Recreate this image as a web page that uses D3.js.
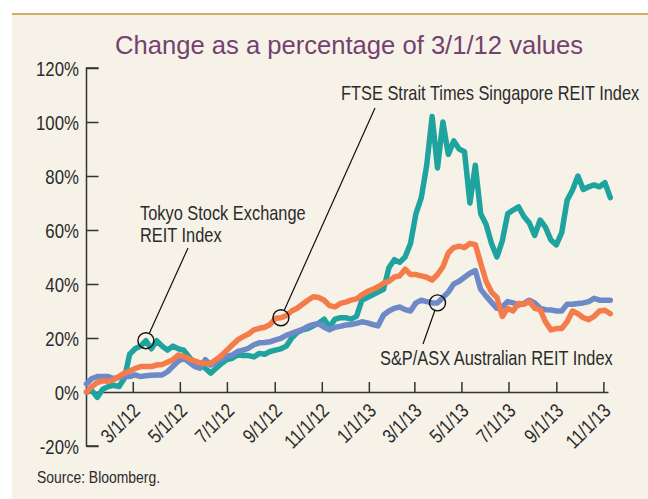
<!DOCTYPE html>
<html>
<head>
<meta charset="utf-8">
<script src="https://cdn.jsdelivr.net/npm/d3@7"></script>
<style>
  body { margin: 0; background: #fff; }
  svg { display: block; }
  .narrow { font-family: 'Liberation Sans', Arial, sans-serif; fill: #2b2b2b; }
</style>
</head>
<body>
<div id="chart"></div>
<script>
// Weekly readings (percent change), first week of Jan 2012 onwards
const tokyo = [0, 0.5, -2, 1, 2, 2.5, 2, 5, 14, 16, 17, 19, 16, 19, 17, 15.5, 17, 16, 15.5, 13,
  10.6, 10, 8.8, 7, 8.8, 10.6, 12, 12.5, 13.7, 13.5, 13.5, 13, 14.3, 14, 15, 15.5, 16, 17, 20, 22,
  23, 23.5, 24.5, 25.5, 27, 24, 27, 27.5, 27.5, 27, 28, 34, 35, 36, 37, 38, 46, 49, 48, 50,
  55, 66, 72, 84, 102, 83, 100, 88, 93, 90, 89, 70, 84, 66, 62, 55, 50, 56, 66, 67.4,
  68.6, 65, 62.6, 58, 63.7, 61, 56.3, 54.5, 59, 71, 74.8, 80, 75, 76, 76.7, 76, 77.5, 72];
const singapore = [0, 2, 3.5, 4.2, 4, 4.5, 5.7, 7, 7.8, 8.7, 9.4, 9.4, 9.4, 10, 10.2, 11, 12, 13.7, 13.2, 12.3,
  11.5, 10.8, 10.6, 10.6, 12, 13.5, 15.5, 17.4, 19.3, 20.5, 21.5, 23, 23.6, 24, 25, 27.3, 27.5, 28.3, 30, 31,
  32.5, 34, 35.3, 35, 34, 32, 31.5, 32.8, 33.3, 34, 34.5, 36, 37.2, 38, 39, 40.3, 41, 42.6, 43, 45.5,
  43.5, 43.5, 43, 42.5, 41.5, 43.5, 46.4, 51.5, 53.5, 54, 53.5, 55, 54.6, 47.7, 41, 37, 35, 28, 31, 30,
  32.8, 32.5, 33.5, 31, 30.5, 26, 23, 23.5, 23.5, 26, 30, 29, 27.5, 26.8, 28, 30, 30.3, 29];
const australia = [3, 5, 5.7, 5.7, 5.7, 5, 5.4, 5.7, 5.7, 6.3, 5.7, 6, 6.2, 6.3, 6.3, 7.5, 9.5, 11.5, 12.5, 11,
  9.5, 8.8, 12, 10, 11, 12.3, 13.3, 13.7, 15, 15.5, 16.2, 17.5, 18.2, 18.3, 18.6, 19.3, 19.9, 21, 21.7, 22.5,
  23.2, 24.3, 25, 25.3, 24, 23, 24, 24.3, 24.8, 25, 25.4, 26, 25.6, 25, 24.5, 28.5, 30, 31, 31.5, 30.5,
  30, 33, 34, 33.5, 33, 33, 35, 37, 40, 41, 42.5, 44, 45, 38, 35.5, 33.2, 31, 31.5, 33.5, 33,
  32.2, 32.8, 34, 33, 31, 30.5, 30.4, 30, 30, 32.5, 32.5, 32.8, 33, 33.5, 34.7, 34, 34, 34];

const yTicks = [-20, 0, 20, 40, 60, 80, 100, 120];
const xTickDates = d3.timeMonth.range(new Date(2012, 2, 1), new Date(2013, 10, 2), 2);

const width = 648, height = 499;
const squeeze = 0.82; // condensed look: horizontally scaled sans
const startDate = new Date(2012, 0, 1);
const weekDates = d3.range(tokyo.length).map(i => d3.timeWeek.offset(startDate, i));

const svg = d3.select('#chart').append('svg')
    .attr('width', width)
    .attr('height', height);

// Panel background and gold rule
svg.append('rect').attr('x', 12).attr('y', 14).attr('width', width - 12).attr('height', height - 14)
    .attr('fill', '#f6f2e8');
svg.append('line').attr('x1', 12).attr('x2', width).attr('y1', 14).attr('y2', 14)
    .attr('stroke', '#d6ad68').attr('stroke-width', 2);

svg.append('text')
    .attr('x', 115).attr('y', 54)
    .attr('font-family', "'Liberation Sans', Arial, sans-serif")
    .attr('font-size', 25.6)
    .attr('fill', '#74426f')
    .text('Change as a percentage of 3/1/12 values');

const x = d3.scaleTime()
    .domain([startDate, new Date(2013, 10, 7)])
    .range([86.5, 608]);
const y = d3.scaleLinear()
    .domain([-20, 120])
    .range([446, 68]);

const axisColor = '#333';

// Y axis (ticks point inward)
const yAxis = svg.append('g')
    .attr('transform', 'translate(86.5,0)')
    .call(d3.axisRight(y).tickValues(yTicks).tickSize(12).tickFormat(d => d + '%'));
yAxis.select('.domain').attr('d', `M12,${y(120)}H0V${y(-20)}H12`).attr('stroke', axisColor).attr('stroke-width', 1.5);
yAxis.selectAll('.tick line').attr('stroke', axisColor).attr('stroke-width', 1.5);
yAxis.selectAll('.tick text')
    .attr('class', 'narrow')
    .attr('x', 0)
    .attr('dy', '0.36em')
    .attr('text-anchor', 'end')
    .attr('font-size', 20.5)
    .attr('fill', '#2b2b2b')
    .attr('transform', `translate(-7.5,0) scale(${squeeze},1)`);

// X axis on the zero line, ticks pointing up
const xAxis = svg.append('g')
    .attr('transform', `translate(0,${y(0)})`)
    .call(d3.axisTop(x).tickValues(xTickDates).tickSize(10).tickSizeOuter(0).tickFormat(d3.timeFormat('%-m/%-d/%y')));
xAxis.select('.domain').attr('stroke', axisColor).attr('stroke-width', 1.5);
xAxis.selectAll('.tick line').attr('stroke', axisColor).attr('stroke-width', 1.5);
xAxis.selectAll('.tick text')
    .attr('class', 'narrow')
    .attr('y', 0).attr('dy', 0)
    .attr('text-anchor', 'end')
    .attr('font-size', 20)
    .attr('fill', '#2b2b2b')
    .attr('transform', `translate(8,20) rotate(-45) scale(${squeeze},1)`);

// Series lines
const line = d3.line()
    .x((d, i) => x(weekDates[i]))
    .y(d => y(d));

const series = [
    { values: tokyo, color: '#1fa39f' },
    { values: australia, color: '#6e89c8' },
    { values: singapore, color: '#f47b4a' }
];

svg.append('g').selectAll('path')
    .data(series)
    .join('path')
    .attr('d', d => line(d.values))
    .attr('fill', 'none')
    .attr('stroke', d => d.color)
    .attr('stroke-width', 5.5)
    .attr('stroke-linejoin', 'round')
    .attr('stroke-linecap', 'round');

// Callouts: circle on the series, leader line up to the label
const callouts = [
    { date: weekDates[11], value: tokyo[11], to: [188, 248] },
    { date: weekDates[36], value: singapore[36], to: [375, 108] },
    { date: weekDates[65], value: australia[65], to: [423, 344] }
];

const ann = svg.append('g');
callouts.forEach(c => {
    const cx = x(c.date), cy = y(c.value), r = 8;
    const dx = c.to[0] - cx, dy = c.to[1] - cy;
    const len = Math.hypot(dx, dy);
    ann.append('circle')
        .attr('cx', cx).attr('cy', cy).attr('r', r)
        .attr('fill', 'none').attr('stroke', '#111').attr('stroke-width', 1.4);
    ann.append('line')
        .attr('x1', cx + dx / len * r).attr('y1', cy + dy / len * r)
        .attr('x2', c.to[0]).attr('y2', c.to[1])
        .attr('stroke', '#111').attr('stroke-width', 1.2);
});

const labels = [
    { x: 140, y: 220, size: 20, text: 'Tokyo Stock Exchange' },
    { x: 140, y: 242, size: 20, text: 'REIT Index' },
    { x: 341, y: 100, size: 20, text: 'FTSE Strait Times Singapore REIT Index' },
    { x: 380, y: 365, size: 20, text: 'S&P/ASX Australian REIT Index' },
    { x: 37, y: 483, size: 17, text: 'Source: Bloomberg.' }
];
ann.selectAll('text.label')
    .data(labels)
    .join('text')
    .attr('class', 'label narrow')
    .attr('transform', d => `translate(${d.x},${d.y}) scale(${squeeze},1)`)
    .attr('font-size', d => d.size)
    .text(d => d.text);
</script>
</body>
</html>
